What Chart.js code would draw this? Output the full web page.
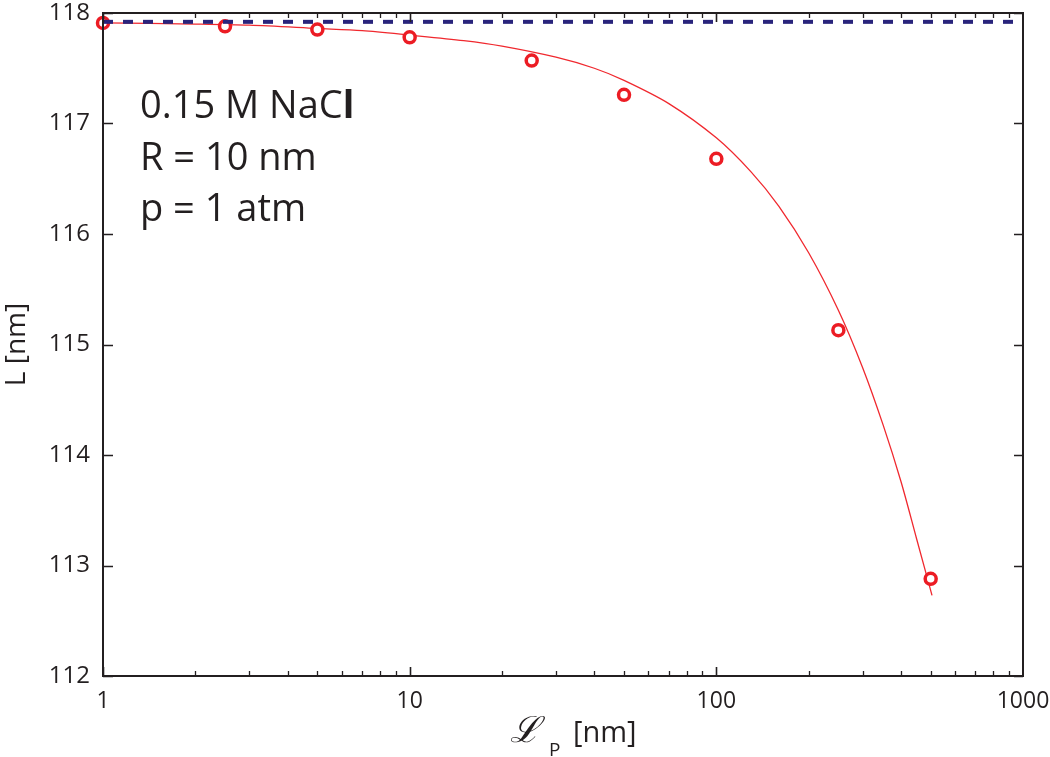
<!DOCTYPE html>
<html>
<head>
<meta charset="utf-8">
<script src="https://cdn.jsdelivr.net/npm/chart.js@4/dist/chart.umd.min.js"></script>
<style>
html,body{margin:0;padding:0;background:#fff;}
#wrap{width:1050px;height:757px;position:relative;}
</style>
</head>
<body>
<div id="wrap"><canvas id="c" width="1050" height="757"></canvas></div>
<script>
// Simulated points (red circles)
const lpValues = [1, 2.5, 5, 10, 25, 50, 100, 250, 500];
const lengthValues = [117.91, 117.88, 117.85, 117.78, 117.57, 117.26, 116.68, 115.13, 112.88];
// Fitted curve (thin red line)
const fitLp = [1, 2, 3, 5, 7, 10, 15, 20, 30, 40, 50, 70, 100, 130, 160, 200, 250, 300, 350, 400, 450, 505];
const fitL = [117.91, 117.90, 117.89, 117.86, 117.84, 117.80, 117.75, 117.70, 117.60, 117.50, 117.39, 117.18, 116.87, 116.56, 116.25, 115.83, 115.31, 114.79, 114.27, 113.76, 113.24, 112.73];
// Bulk (dashed navy) reference line
const bulkLp = [1, 1000];
const bulkL = [117.92, 117.92];
// Axes
const xTickLabels = [1, 10, 100, 1000];
const yTickLabels = [112, 113, 114, 115, 116, 117, 118];
const annotationLines = ['0.15 M NaCl', 'R = 10 nm', 'p = 1 atm'];

const FONT = "'Open Sans', 'Noto Sans', sans-serif";
const INK = '#231f20';

const frame = {
  id: 'frame',
  afterDatasetsDraw(chart) {
    const {ctx, chartArea: a, scales: {x, y}} = chart;
    ctx.save();
    ctx.strokeStyle = INK;
    for (let d = 1; d <= 100; d *= 10) {
      for (let m = 1; m <= 9; m++) {
        const v = m * d;
        const px = Math.round(x.getPixelForValue(v)) + 0.5;
        const len = m === 1 ? 9 : 5;
        ctx.lineWidth = m === 1 ? 1.6 : 1.3;
        ctx.beginPath();
        ctx.moveTo(px, a.bottom); ctx.lineTo(px, a.bottom - len);
        ctx.moveTo(px, a.top); ctx.lineTo(px, a.top + len);
        ctx.stroke();
      }
    }
    ctx.lineWidth = 1.6;
    yTickLabels.forEach(v => {
      const py = Math.round(y.getPixelForValue(v)) + 0.5;
      ctx.beginPath();
      ctx.moveTo(a.left, py); ctx.lineTo(a.left + 10, py);
      ctx.moveTo(a.right, py); ctx.lineTo(a.right - 9, py);
      ctx.stroke();
    });
    ctx.lineWidth = 2;
    ctx.strokeRect(a.left, a.top, a.right - a.left, a.bottom - a.top);
    ctx.restore();
  },
  afterDraw(chart) {
    const {ctx} = chart;
    ctx.save();
    ctx.fillStyle = INK;
    ctx.textBaseline = 'alphabetic';
    ctx.textAlign = 'left';
    const baselines = [118, 170, 221];
    annotationLines.forEach((t, i) => {
      if (i === 0) {
        const head = t.slice(0, -1);
        ctx.font = '38px ' + FONT;
        ctx.fillText(head, 140, baselines[i]);
        const w = ctx.measureText(head).width;
        ctx.font = 'bold 38px ' + FONT;
        ctx.fillText(t.slice(-1), 140 + w, baselines[i]);
      } else {
        ctx.font = '38px ' + FONT;
        ctx.fillText(t, 140, baselines[i]);
      }
    });
    ctx.font = "italic 36px 'DejaVu Serif', serif";
    ctx.fillText('\u2112', 510, 742);
    ctx.font = '19px ' + FONT;
    ctx.fillText('P', 549, 756);
    ctx.font = '29px ' + FONT;
    ctx.fillText('[nm]', 573, 742);
    ctx.restore();
  }
};

new Chart(document.getElementById('c'), {
  type: 'line',
  data: {
    datasets: [
      {
        label: 'bulk',
        data: bulkLp.map((v, i) => ({x: v, y: bulkL[i]})),
        borderColor: '#29247c',
        borderWidth: 4,
        borderDash: [10, 10],
        pointRadius: 0,
        fill: false
      },
      {
        label: 'simulation',
        data: lpValues.map((v, i) => ({x: v, y: lengthValues[i]})),
        showLine: false,
        pointRadius: 5.5,
        pointBorderWidth: 3.5,
        pointBorderColor: '#ec1c24',
        pointBackgroundColor: '#ffffff',
        clip: false
      },
      {
        label: 'fit',
        data: fitLp.map((v, i) => ({x: v, y: fitL[i]})),
        borderColor: '#f0282e',
        borderWidth: 1.3,
        pointRadius: 0,
        tension: 0.3,
        fill: false
      }
    ]
  },
  options: {
    responsive: false,
    animation: false,
    layout: {padding: 0},
    plugins: {legend: {display: false}, tooltip: {enabled: false}},
    scales: {
      x: {
        type: 'logarithmic',
        min: 1, max: 1000,
        afterBuildTicks(s) { s.ticks = xTickLabels.map(v => ({value: v})); },
        afterFit(s) { s.height = 81; s.paddingRight = 27; s.paddingLeft = 0; },
        grid: {display: false, drawTicks: false},
        border: {display: false},
        ticks: {
          autoSkip: false, maxRotation: 0, padding: 12,
          color: INK, font: {family: FONT, size: 23},
          callback: v => String(v)
        }
      },
      y: {
        type: 'linear',
        min: 112, max: 118,
        afterBuildTicks(s) { s.ticks = yTickLabels.map(v => ({value: v})); },
        afterFit(s) { s.width = 103; s.paddingTop = 13; s.paddingBottom = 0; },
        grid: {display: false, drawTicks: false},
        border: {display: false},
        ticks: {padding: 13, color: INK, font: {family: FONT, size: 24}},
        title: {display: true, text: 'L [nm]', color: INK, font: {family: FONT, size: 28}, padding: {top: 0, bottom: 0}}
      }
    }
  },
  plugins: [frame]
});
</script>
</body>
</html>
